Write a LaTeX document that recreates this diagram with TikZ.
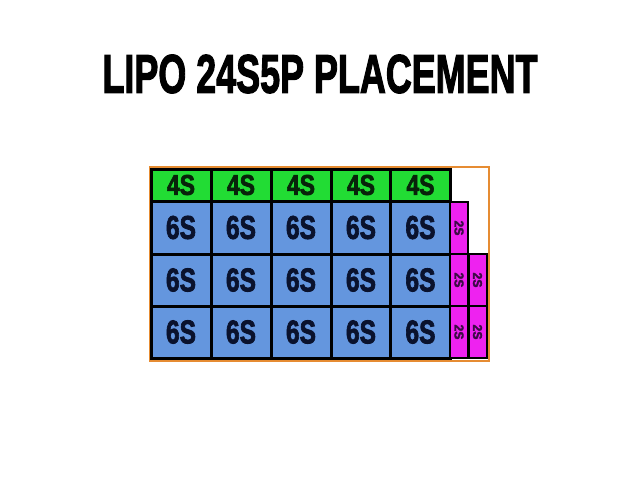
\documentclass[tikz,border=0pt]{standalone}
\usepackage{fontspec}
\setmainfont{Liberation Sans}[BoldFeatures={FakeBold=2.5}]
\definecolor{gcell}{RGB}{34,220,52}
\definecolor{bcell}{RGB}{100,150,222}
\definecolor{pcell}{RGB}{238,34,240}
\definecolor{obox}{RGB}{230,140,50}
\definecolor{ttext}{RGB}{10,18,45}
\definecolor{gtext}{RGB}{8,35,10}
\definecolor{ptext}{RGB}{60,10,70}
\begin{document}
\begin{tikzpicture}[x=1pt,y=-1pt,
  cellbase/.style={draw=black,line width=3pt,inner sep=0pt,anchor=center},
  four/.style={cellbase,fill=gcell,minimum width=60pt,minimum height=32pt,text=gtext},
  six/.style={cellbase,fill=bcell,minimum width=60pt,text=ttext},
  two/.style={cellbase,line width=2pt,fill=pcell,minimum width=18pt,text=ptext},
]
\useasboundingbox (0,0) rectangle (640,480);
\node[font=\bfseries] (title) at (320,74) {\resizebox{435pt}{38pt}{LIPO 24S5P PLACEMENT}};
\draw[obox,line width=2pt] (149.5,166.5) rectangle (489,361) coordinate (oc);
\foreach \i/\x in {1/181,2/241,3/301,4/361,5/420.5}{
  \node[four] (g\i) at (\x,185) {\bfseries\resizebox{28pt}{20pt}{4S}};
  \node[six,minimum height=53pt] (a\i) at (\x,227.5) {\bfseries\resizebox{30pt}{23pt}{6S}};
  \node[six,minimum height=52pt] (b\i) at (\x,280) {\bfseries\resizebox{30pt}{23pt}{6S}};
  \node[six,minimum height=52pt] (c\i) at (\x,332) {\bfseries\resizebox{30pt}{23pt}{6S}};
}
\node[two,minimum height=52pt] (p1) at (459,228) {\rotatebox{-90}{\bfseries\resizebox{15pt}{9pt}{2S}}};
\node[two,minimum height=52pt] (p2) at (459,280) {\rotatebox{-90}{\bfseries\resizebox{15pt}{9pt}{2S}}};
\node[two,minimum height=52pt] (p3) at (459,332) {\rotatebox{-90}{\bfseries\resizebox{15pt}{9pt}{2S}}};
\node[two,minimum height=52pt] (q2) at (477.5,280) {\rotatebox{-90}{\bfseries\resizebox{15pt}{9pt}{2S}}};
\node[two,minimum height=52pt] (q3) at (477.5,332) {\rotatebox{-90}{\bfseries\resizebox{15pt}{9pt}{2S}}};
\end{tikzpicture}
\end{document}
